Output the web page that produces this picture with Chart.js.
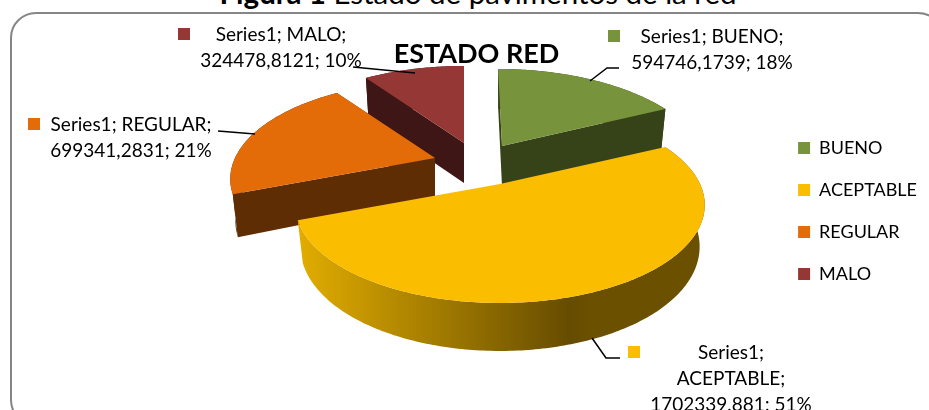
<!DOCTYPE html>
<html>
<head>
<meta charset="utf-8">
<script src="https://cdn.jsdelivr.net/npm/chart.js@4/dist/chart.umd.min.js"></script>
<style>
html, body { margin: 0; padding: 0; background: #fff; overflow: hidden; }
#page { position: relative; width: 929px; height: 410px; overflow: hidden; }
#caption { position: absolute; left: 0; width: 956px; top: -25px; text-align: center; font: 29.5px Lato, sans-serif; color: #000; white-space: nowrap; }
#frame { position: absolute; left: 10px; top: 12px; width: 930px; height: 410px; border: 2px solid #868686; border-radius: 26px; }
canvas { position: absolute; left: 0; top: 0; }
</style>
</head>
<body>
<div id="page">
  <div id="caption"><b>Figura 1</b> Estado de pavimentos de la red</div>
  <div id="frame"></div>
  <canvas id="chart" width="929" height="410"></canvas>
</div>
<script>
var seriesName = "Series1";
var categories = ["BUENO", "ACEPTABLE", "REGULAR", "MALO"];
var values = [594746.1739, 1702339.881, 699341.2831, 324478.8121];
var percents = ["18%", "51%", "21%", "10%"];
var chartTitle = "ESTADO RED";

var topColors = ["#77933C", "#FBBD00", "#E36C09", "#953735"];
var wallColors = ["#364218", "#6B5000", "#5F2D03", "#3E1615"];

// where each exploded slice has its tip, and the look of the tilted pie
var tips = [{x: 502, y: 146, skew: 0.05}, {x: 500, y: 184, skew: 0}, {x: 435, y: 158, skew: 0}, {x: 464, y: 143, skew: 0}];
var tilt = {a: 200, b: 93.5, k: 0.214, depth: 40, front: 8, shrink: 0.975};

function project(tip, angle, bottom) {
    var u = Math.sin(angle), v = -Math.cos(angle);
    var w = 1 - tilt.k * v;
    var px = tilt.a * u / w, py = tilt.b * v / w;
    px = px + tip.skew * py;
    if (bottom) {
        px = px * tilt.shrink;
        py = py + tilt.depth + tilt.front * Math.max(v, 0);
    }
    return {x: tip.x + px, y: tip.y + py};
}

function trace(ctx, tip, a0, a1, bottom, reverse) {
    var n = Math.max(2, Math.ceil((a1 - a0) / 0.015));
    for (var i = 0; i <= n; i++) {
        var t = reverse ? 1 - i / n : i / n;
        var p = project(tip, a0 + (a1 - a0) * t, bottom);
        ctx.lineTo(p.x, p.y);
    }
}

function radialWall(ctx, tip, angle) {
    var p = project(tip, angle, false), q = project(tip, angle, true);
    ctx.beginPath();
    ctx.moveTo(tip.x, tip.y);
    ctx.lineTo(p.x, p.y);
    ctx.lineTo(q.x, q.y);
    ctx.lineTo(tip.x, tip.y + tilt.depth);
    ctx.closePath();
    ctx.fill();
}

// the arcs come from the pie controller, this only tilts and extrudes them
var tiltedPie = {
    id: "tiltedPie",
    beforeDatasetDraw: function (chart) {
        var ctx = chart.ctx;
        var arcs = chart.getDatasetMeta(0).data;
        var order = [3, 2, 0, 1];
        ctx.save();
        for (var o = 0; o < order.length; o++) {
            var i = order[o];
            var tip = tips[i];
            var a0 = arcs[i].startAngle + Math.PI / 2;
            var a1 = arcs[i].endAngle + Math.PI / 2;
            var wall = wallColors[i];
            if (i === 1) {
                wall = ctx.createLinearGradient(298, 0, 590, 0);
                wall.addColorStop(0, "#E2AD00");
                wall.addColorStop(0.93, "#664C00");
                wall.addColorStop(1, "#6B5000");
            }
            ctx.fillStyle = wall;
            ctx.beginPath();
            trace(ctx, tip, a0, a1, false, false);
            trace(ctx, tip, a0, a1, true, true);
            ctx.closePath();
            ctx.fill();
            ctx.fillStyle = wallColors[i];
            if (i !== 1) {
                radialWall(ctx, tip, a0);
                radialWall(ctx, tip, a1);
            }
            ctx.fillStyle = topColors[i];
            ctx.beginPath();
            ctx.moveTo(tip.x, tip.y);
            trace(ctx, tip, a0, a1, false, false);
            ctx.closePath();
            ctx.fill();
        }
        ctx.restore();
        return false;
    }
};

function labelLines(i) {
    var num = String(values[i]).replace(".", ",");
    if (i === 1) return [seriesName + ";", categories[i] + ";", num + "; " + percents[i]];
    return [seriesName + "; " + categories[i] + ";", num + "; " + percents[i]];
}

var labelSpots = [
    {x: 712, y: 37, kx: 608, ky: 30, lead: [[590, 81], [607, 68], [619, 68]]},
    {x: 731, y: 353, kx: 628, ky: 346, lead: [[592, 338], [606, 358], [620, 358]]},
    {x: 131, y: 125, kx: 28, ky: 118, lead: [[218, 131], [255, 134]]},
    {x: 281, y: 35, kx: 178, ky: 28, lead: [[353, 67], [415, 73]]}
];

var dataLabels = {
    id: "dataLabels",
    afterDatasetsDraw: function (chart) {
        var ctx = chart.ctx;
        ctx.save();
        ctx.font = "19px Lato, sans-serif";
        ctx.textAlign = "center";
        ctx.textBaseline = "middle";
        for (var i = 0; i < categories.length; i++) {
            var s = labelSpots[i];
            ctx.fillStyle = topColors[i];
            ctx.fillRect(s.kx, s.ky, 12, 12);
            ctx.fillStyle = "#000";
            var lines = labelLines(i);
            for (var j = 0; j < lines.length; j++) {
                ctx.fillText(lines[j], s.x, s.y + j * 26);
            }
            ctx.strokeStyle = "#000";
            ctx.lineWidth = 1.5;
            ctx.beginPath();
            for (var k = 0; k < s.lead.length; k++) {
                if (k === 0) ctx.moveTo(s.lead[k][0], s.lead[k][1]);
                else ctx.lineTo(s.lead[k][0], s.lead[k][1]);
            }
            ctx.stroke();
        }
        ctx.restore();
    }
};

var myChart = new Chart(document.getElementById("chart"), {
    type: "pie",
    data: {
        labels: categories,
        datasets: [{
            data: values,
            backgroundColor: topColors,
            borderWidth: 0
        }]
    },
    options: {
        responsive: false,
        animation: false,
        layout: { padding: { left: 26, right: 2, top: 12, bottom: 0 } },
        plugins: {
            title: {
                display: true,
                text: chartTitle,
                color: "#000",
                font: { family: "Lato, sans-serif", size: 27, weight: "bold" },
                padding: { top: 26, bottom: 0 }
            },
            legend: {
                position: "right",
                labels: {
                    boxWidth: 12,
                    boxHeight: 12,
                    padding: 24,
                    color: "#000",
                    font: { family: "Lato, sans-serif", size: 18 }
                }
            },
            tooltip: { enabled: false }
        }
    },
    plugins: [tiltedPie, dataLabels]
});
</script>
</body>
</html>
